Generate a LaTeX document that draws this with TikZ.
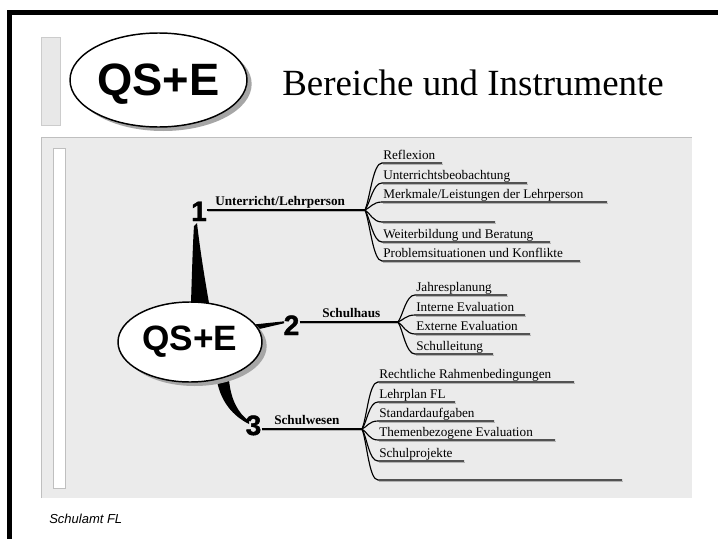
\documentclass[tikz,border=0pt]{standalone}
\usepackage{fontspec}
\setmainfont{Liberation Serif}
\setsansfont{Liberation Sans}
\newfontfamily\digitfont[FakeBold=1.5]{Liberation Sans}
\usetikzlibrary{shapes.geometric,shadows}
\begin{document}
\begin{tikzpicture}[x=0.75pt,y=-0.75pt,
  lbl/.style={anchor=base west,inner sep=0pt,font=\fontsize{9.9pt}{11pt}\selectfont},
  blbl/.style={anchor=base west,inner sep=0pt,font=\fontsize{9.9pt}{11pt}\selectfont\bfseries},
  digit/.style={anchor=base,inner sep=0pt,font=\fontsize{21pt}{24pt}\selectfont\digitfont\bfseries},
  subline/.style={line width=0.85pt,black},
  mainline/.style={line width=1pt,black},
  shline/.style={line width=0.8pt,black!30},
  oval/.style={ellipse,draw=black,line width=1.1pt,fill=white,inner sep=0pt,
    drop shadow={shadow xshift=3.5pt,shadow yshift=-3pt,fill=black!35,opacity=1}},
  taper/.style={fill=black}]
% canvas
\fill[white] (0,0) rectangle (718,539);
\useasboundingbox (0,0) rectangle (718,539);
% frame
\draw[line width=3.75pt,miter limit=10] (9.5,539) -- (9.5,12.5) -- (718,12.5);
% header small panel
\filldraw[fill=black!9,draw=black!20,line width=0.5pt] (41,37) rectangle (60,125);
% main panel
\fill[black!8] (41,137) rectangle (692,498);
\draw[black!25,line width=0.6pt] (41,498) -- (41,137) -- (692,137);
\filldraw[fill=white,draw=black!25,line width=0.5pt] (53,148) rectangle (65,488);

% header
\node[oval,minimum width=132.75pt,minimum height=70.5pt,
      font=\fontsize{34pt}{36pt}\selectfont\sffamily\bfseries] (hdr) at (158.5,80) {\raisebox{-3pt}[\height][\depth]{QS+E}};
\node[anchor=base west,inner sep=0pt,font=\fontsize{27.7pt}{30pt}\selectfont] (title) at (282,95) {Bereiche und Instrumente};

% main branches (behind the central oval)
\fill[taper] (191,303) .. controls (192,270) and (193,240) .. (194,226) -- (197,223)
   .. controls (200,250) and (205,280) .. (209,303) -- cycle;
\fill[taper] (254,324.5) -- (284,321.3) -- (284,323.3) -- (255,330) -- cycle;
\fill[taper] (217,381) .. controls (221,402) and (233,416) .. (249,424) -- (249,421)
   .. controls (238,413) and (231,400) .. (229,380) -- cycle;

% central oval
\node[oval,minimum width=108pt,minimum height=60pt,
      font=\fontsize{26.4pt}{28pt}\selectfont\sffamily\bfseries] (core) at (190,342) {QS+E};

% digits
\node[digit] (d1) at (199,221) {1};
\node[digit] (d2) at (291.5,335) {2};
\node[digit] (d3) at (253.5,435) {3};

% junctions
\coordinate (n1) at (365,210);
\coordinate (n2) at (398,322);
\coordinate (n3) at (362,429);

% main lines
\draw[shline] ([shift={(0.5,1.2)}]d1.east |- n1) -- ([shift={(0.5,1.2)}]n1);
\draw[mainline] (d1.east |- n1) -- (n1);
\draw[shline] ([shift={(0.5,1.2)}]d2.east |- n2) -- ([shift={(0.5,1.2)}]n2);
\draw[mainline] (d2.east |- n2) -- (n2);
\draw[shline] ([shift={(0.5,1.2)}]d3.east |- n3) -- ([shift={(0.5,1.2)}]n3);
\draw[mainline] (d3.east |- n3) -- (n3);

\node[blbl] (l1) at (215,205) {Unterricht/Lehrperson};
\node[blbl] (l2) at (322,317) {Schulhaus};
\node[blbl] (l3) at (274,424) {Schulwesen};

% sub-branches 1
\foreach \k/\y/\e/\t in {1/163/442/Reflexion,2/183/527/Unterrichtsbeobachtung,
   3/202/607/{Merkmale/Leistungen der Lehrperson},4/222/495/{},
   5/242/550/Weiterbildung und Beratung,6/261/580/Problemsituationen und Konflikte}{
  \coordinate (pa\k) at (382,\y);
  \coordinate (qa\k) at (\e,\y);
  \draw[shline] ([shift={(0.5,1.2)}]pa\k) -- ([shift={(0.5,1.2)}]qa\k);
  \draw[subline] (n1) .. controls +(5,{0.25*(\y-210)}) and +(-9,0) .. (pa\k) -- (qa\k);
  \node[lbl] (ta\k) at (383,{\y-4}) {\t};
}
% sub-branches 2
\foreach \k/\y/\e/\t in {1/295/507/Jahresplanung,2/315/525/Interne Evaluation,
   3/334/530/Externe Evaluation,4/354/493/Schulleitung}{
  \coordinate (pb\k) at (415,\y);
  \coordinate (qb\k) at (\e,\y);
  \draw[shline] ([shift={(0.5,1.2)}]pb\k) -- ([shift={(0.5,1.2)}]qb\k);
  \draw[subline] (n2) .. controls +(5,{0.25*(\y-322)}) and +(-9,0) .. (pb\k) -- (qb\k);
  \node[lbl] (tb\k) at (416,{\y-4}) {\t};
}
% sub-branches 3
\foreach \k/\y/\e/\t in {1/382/574/Rechtliche Rahmenbedingungen,2/402/455/Lehrplan FL,
   3/421/494/Standardaufgaben,4/440/555/Themenbezogene Evaluation,
   5/461/464/Schulprojekte,6/480/622/{}}{
  \coordinate (pc\k) at (378,\y);
  \coordinate (qc\k) at (\e,\y);
  \draw[shline] ([shift={(0.5,1.2)}]pc\k) -- ([shift={(0.5,1.2)}]qc\k);
  \draw[subline] (n3) .. controls +(5,{0.25*(\y-429)}) and +(-9,0) .. (pc\k) -- (qc\k);
  \node[lbl] (tc\k) at (379,{\y-4}) {\t};
}

% footer
\node[anchor=base west,inner sep=0pt,font=\fontsize{9.75pt}{11pt}\selectfont\sffamily\itshape] (foot) at (49,523) {Schulamt FL};
\end{tikzpicture}
\end{document}
